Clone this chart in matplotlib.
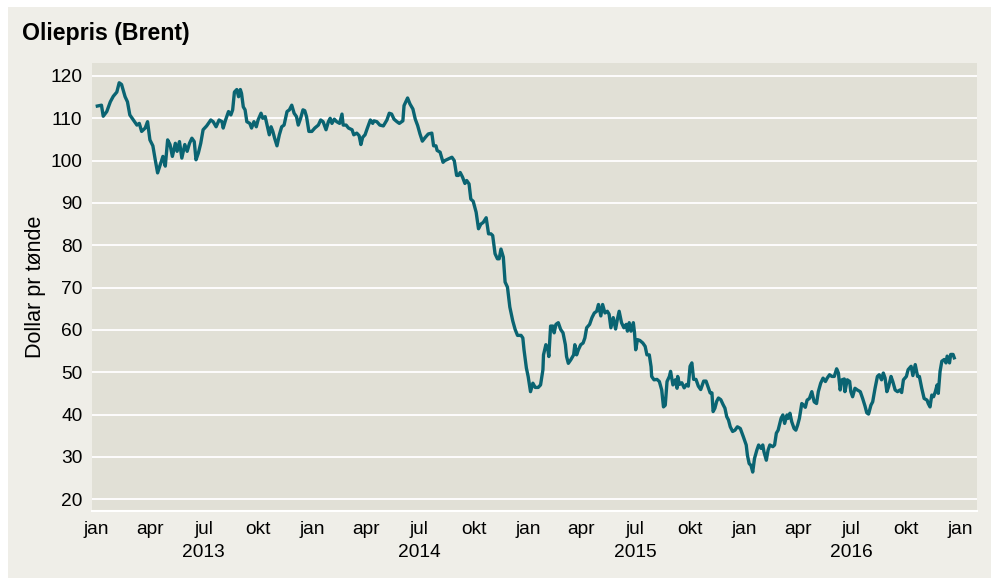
import matplotlib
matplotlib.use("Agg")
import matplotlib.pyplot as plt
import matplotlib.transforms as mtransforms
from matplotlib.patches import Rectangle
import pandas as pd

# Brent price: days after 2013-01-01 and USD per barrel
day_offset = [
    1, 8, 11, 17, 23, 28, 34, 38, 42, 48, 52, 56, 62, 68, 72, 76, 82, 86, 90, 95,
    99, 103, 107, 112, 116, 120, 124, 128, 133, 136, 140, 144, 149, 153, 157, 161, 165, 168, 172, 176,
    180, 186, 193, 197, 202, 207, 212, 214, 218, 223, 227, 230, 233, 237, 240, 243, 245, 248, 251, 254,
    259, 262, 266, 270, 273, 278, 281, 285, 289, 292, 295, 298, 301, 305, 309, 313, 317, 322, 326, 330,
    334, 338, 341, 345, 349, 352, 355, 359, 364, 369, 375, 379, 383, 388, 392, 395, 398, 402, 406, 411,
    415, 417, 422, 426, 432, 435, 440, 444, 447, 450, 454, 458, 463, 467, 469, 474, 479, 485, 491, 495,
    499, 503, 508, 512, 518, 520, 526, 530, 535, 539, 543, 547, 551, 556, 561, 567, 570, 574, 576, 581,
    586, 589, 595, 601, 605, 609, 612, 615, 619, 623, 626, 630, 633, 637, 642, 646, 650, 654, 659, 663,
    667, 670, 674, 678, 681, 684, 688, 691, 695, 699, 704, 708, 712, 718, 721, 723, 727, 730, 734, 738,
    742, 747, 751, 755, 756, 760, 763, 765, 768, 772, 774, 777, 781, 785, 789, 793, 795, 798, 802, 807,
    809, 812, 815, 819, 823, 826, 829, 834, 838, 842, 846, 849, 853, 856, 860, 864, 867, 870, 874, 878,
    881, 884, 888, 892, 896, 898, 901, 904, 908, 910, 912, 915, 919, 924, 928, 931, 935, 938, 939, 943,
    948, 952, 956, 959, 962, 965, 969, 971, 975, 979, 982, 983, 986, 990, 994, 998, 1001, 1004, 1007, 1010,
    1014, 1018, 1022, 1027, 1031, 1035, 1038, 1041, 1043, 1046, 1049, 1052, 1056, 1060, 1063, 1066, 1069, 1072, 1076, 1080,
    1084, 1089, 1092, 1094, 1099, 1101, 1104, 1107, 1110, 1113, 1117, 1120, 1124, 1127, 1129, 1133, 1136, 1139, 1144, 1147,
    1150, 1153, 1158, 1161, 1164, 1168, 1170, 1173, 1176, 1180, 1183, 1186, 1189, 1193, 1196, 1199, 1202, 1206, 1210, 1214,
    1218, 1221, 1225, 1229, 1233, 1236, 1240, 1244, 1248, 1252, 1255, 1258, 1261, 1265, 1266, 1270, 1274, 1276, 1279, 1283,
    1287, 1292, 1296, 1300, 1303, 1306, 1310, 1313, 1317, 1321, 1324, 1328, 1331, 1334, 1337, 1340, 1344, 1347, 1351, 1355,
    1359, 1362, 1365, 1370, 1373, 1378, 1381, 1385, 1389, 1392, 1396, 1400, 1405, 1407, 1410, 1413, 1416, 1419, 1422, 1424,
    1427, 1430, 1434, 1437, 1439, 1443, 1445, 1449, 1451,
]
brent_usd = [
    112.9, 113.1, 110.5, 111.6, 113.9, 115.2, 116.2, 118.4, 118.0, 115.1, 113.9, 110.8, 109.6, 108.4, 108.8, 106.9, 107.7, 109.2, 104.9, 103.5,
    100.2, 97.1, 98.8, 101.0, 98.7, 104.9, 103.8, 101.0, 104.1, 102.2, 104.5, 100.6, 103.8, 102.2, 104.1, 105.3, 104.5, 100.2, 101.8, 104.1,
    107.3, 108.2, 109.6, 109.2, 108.0, 109.6, 109.2, 107.7, 109.6, 111.6, 110.8, 112.0, 116.2, 116.8, 115.1, 116.8, 115.9, 112.7, 112.0, 109.2,
    108.8, 107.7, 109.2, 108.0, 109.6, 111.2, 110.0, 110.4, 108.0, 106.1, 108.0, 106.9, 105.3, 103.5, 106.1, 108.0, 108.4, 111.6, 112.0, 113.1,
    111.2, 110.4, 108.4, 110.0, 112.0, 111.8, 110.4, 106.9, 106.9, 107.7, 108.4, 109.6, 109.2, 107.3, 109.2, 110.0, 108.8, 109.8, 109.2, 108.8,
    111.0, 108.4, 108.4, 107.7, 107.3, 106.1, 106.5, 105.9, 103.8, 105.5, 106.1, 107.7, 109.6, 108.8, 109.4, 109.2, 108.4, 108.2, 109.6, 111.2,
    111.0, 109.8, 109.2, 108.8, 109.4, 113.0, 114.8, 113.4, 112.2, 109.8, 108.3, 106.3, 104.6, 105.5, 106.3, 106.5, 103.5, 103.5, 102.4, 102.0,
    99.6, 100.0, 100.4, 100.8, 100.0, 96.5, 96.5, 97.2, 96.1, 94.6, 95.3, 94.5, 90.9, 90.4, 87.8, 83.9, 85.0, 85.4, 86.5, 82.7,
    82.7, 82.3, 78.0, 76.8, 76.8, 79.1, 77.2, 71.3, 70.1, 65.4, 62.1, 60.1, 58.7, 58.7, 58.1, 55.3, 51.0, 49.0, 45.4, 47.4,
    46.4, 46.4, 47.0, 50.6, 54.1, 56.5, 55.7, 53.7, 60.9, 60.9, 59.3, 61.3, 61.7, 60.1, 59.3, 56.5, 53.7, 52.1, 52.9, 54.1,
    56.5, 54.1, 55.3, 56.5, 56.9, 58.1, 60.5, 61.3, 62.9, 64.0, 64.4, 66.0, 63.3, 66.0, 64.0, 64.4, 63.7, 60.5, 62.9, 60.2,
    62.5, 64.4, 61.7, 60.5, 61.3, 59.7, 61.7, 59.7, 61.7, 59.3, 55.3, 57.7, 57.5, 56.9, 56.1, 54.1, 54.1, 51.3, 49.0, 48.2,
    48.3, 47.8, 45.8, 41.8, 42.2, 47.8, 49.0, 50.2, 47.0, 48.2, 46.2, 49.0, 47.1, 47.5, 46.3, 47.1, 46.7, 51.4, 52.2, 48.3,
    48.3, 46.7, 45.9, 47.9, 47.9, 46.3, 45.1, 45.1, 40.7, 41.5, 43.1, 43.9, 43.5, 42.3, 41.5, 39.5, 38.7, 37.1, 36.0, 36.3,
    37.1, 36.7, 35.6, 34.8, 32.8, 30.4, 28.4, 28.0, 26.4, 29.6, 31.6, 32.8, 32.0, 32.8, 31.2, 29.2, 31.6, 32.8, 32.4, 32.8,
    35.6, 36.3, 39.1, 39.9, 37.9, 39.9, 39.1, 40.3, 38.3, 36.7, 36.3, 37.5, 39.1, 42.6, 42.2, 41.7, 43.4, 43.8, 45.4, 43.0,
    42.6, 45.4, 47.4, 48.6, 47.8, 48.6, 49.4, 49.0, 49.0, 50.8, 49.8, 45.8, 48.2, 48.4, 45.4, 48.2, 47.8, 45.4, 44.2, 46.2,
    45.8, 45.4, 43.8, 42.0, 40.4, 40.1, 42.2, 43.0, 46.2, 49.0, 49.4, 48.2, 49.8, 48.6, 45.4, 46.6, 49.0, 47.8, 45.8, 45.4,
    45.8, 45.2, 48.2, 49.0, 50.6, 51.4, 49.2, 51.8, 49.0, 49.0, 46.2, 43.8, 43.4, 42.6, 41.8, 44.6, 44.2, 45.4, 47.0, 45.0,
    50.2, 52.6, 53.0, 52.2, 53.8, 52.2, 54.2, 54.2, 53.4,
]

month_labels = ["jan", "apr", "jul", "okt"]
years = [2013, 2014, 2015, 2016]
y_ticks = list(range(20, 121, 10))

dates = pd.Timestamp("2013-01-01") + pd.to_timedelta(day_offset, unit="D")

plt.rcParams["font.family"] = ["Liberation Sans", "DejaVu Sans"]

fig = plt.figure(figsize=(9.91, 5.78), dpi=100, facecolor="white")
fig.patches.append(Rectangle((8 / 991, 0), 1, 1 - 7 / 578, transform=fig.transFigure,
                             facecolor="#efeee8", edgecolor="none", zorder=-10))

ax = fig.add_axes([92 / 991, 1 - 511 / 578, 884.7 / 991, 447.7 / 578])
ax.set_facecolor("#e1e0d6")
ax.plot(dates, brent_usd, color="#0a6472", lw=2.4, solid_joinstyle="round")

ax.set_ylim(17.2, 123)
ax.set_yticks(y_ticks)
ax.yaxis.grid(True, color="white", lw=1.3)
ax.set_axisbelow(True)

ax.set_xlim(pd.Timestamp("2012-12-24"), pd.Timestamp("2017-01-29"))
xt = [pd.Timestamp(y, m, 1) for y in years for m in (1, 4, 7, 10)] + [pd.Timestamp(2017, 1, 1)]
ax.set_xticks(xt)
ax.set_xticklabels([month_labels[i % 4] for i in range(len(xt))])

for s in ["top", "left", "right"]:
    ax.spines[s].set_visible(False)
ax.spines["bottom"].set_color("white")
ax.spines["bottom"].set_linewidth(1.5)
ax.tick_params(axis="both", length=0, labelsize=13.8, colors="black")
ax.tick_params(axis="y", pad=7)
ax.tick_params(axis="x", pad=7)

trans = mtransforms.blended_transform_factory(ax.transData, ax.transAxes)
for yr in years:
    ax.text(pd.Timestamp(yr, 7, 1), -0.093, str(yr), transform=trans,
            ha="center", va="center", fontsize=13.8)

fig.text(22 / 991, 1 - 40 / 578, "Oliepris (Brent)", fontsize=16.7, fontweight="bold",
         ha="left", va="baseline")
fig.text(35 / 991, 1 - 287 / 578, "Dollar pr tønde", fontsize=15.5, rotation=90,
         ha="center", va="center")

fig.savefig("out.png", dpi=100, facecolor=fig.get_facecolor())
